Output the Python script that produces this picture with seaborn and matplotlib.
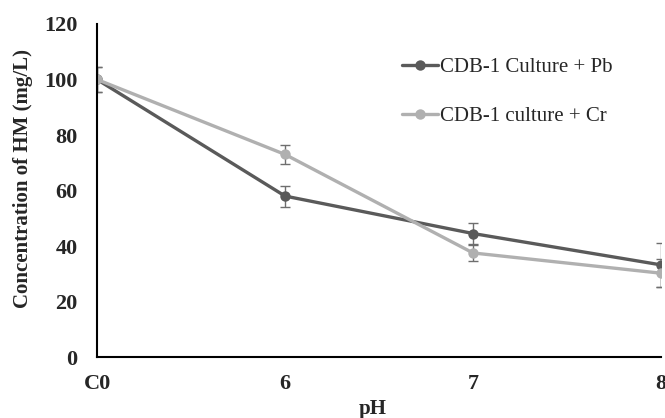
import numpy as np
import pandas as pd
import seaborn as sns
import matplotlib.pyplot as plt

# 数据
ph_labels = ['C0', '6', '7', '8']
pb_values = [100, 58, 44.5, 33.2]
pb_errors = [4.5, 3.8, 3.8, 8.0]
cr_values = [100, 73, 37.5, 30.2]
cr_errors = [4.5, 3.5, 3.0, 5.0]
series_names = ['CDB-1 Culture + Pb', 'CDB-1 culture + Cr']
series_colors = ['#5a5a5a', '#b0b0b0']

sns.set_style('white')
plt.rcParams['font.family'] = ['Liberation Serif', 'DejaVu Serif']

pos = np.arange(len(ph_labels))
df = pd.DataFrame({
    'pos': np.concatenate([pos, pos]),
    'value': pb_values + cr_values,
    'err': pb_errors + cr_errors,
    'series': [series_names[0]] * len(pos) + [series_names[1]] * len(pos),
})

fig = plt.figure(figsize=(6.65, 4.18), dpi=100)
ax = fig.add_axes([0.1459, 0.1459, 0.8481, 0.7967])

# 误差线
for name, color in zip(series_names, series_colors):
    sub = df[df['series'] == name]
    ax.errorbar(sub['pos'], sub['value'], yerr=sub['err'], fmt='none',
                ecolor='#6e6e6e', elinewidth=1.0, capsize=3.5, capthick=1.0, zorder=1)

sns.lineplot(data=df, x='pos', y='value', hue='series', hue_order=series_names,
             palette=series_colors, marker='o', markersize=7.5, markeredgewidth=0,
             linewidth=2.4, ax=ax, zorder=2)

ax.set_xlim(0, 3)
ax.set_ylim(0, 120)
ax.set_xticks(pos)
ax.set_xticklabels(ph_labels)
ax.set_yticks(range(0, 121, 20))
for lab in ax.get_xticklabels() + ax.get_yticklabels():
    lab.set_fontweight('bold')
    lab.set_fontsize(16)

ax.set_xlabel('pH', fontsize=15, fontweight='bold')
ax.set_ylabel('Concentration of HM (mg/L)', fontsize=15, fontweight='bold')
ax.xaxis.set_label_coords(0.489, -0.125)
ax.yaxis.set_label_coords(-0.113, 0.537)

for s in ['top', 'right']:
    ax.spines[s].set_visible(False)
for s in ['left', 'bottom']:
    ax.spines[s].set_color('black')
    ax.spines[s].set_linewidth(1.5)
ax.tick_params(axis='both', direction='out', length=5, width=1.5, color='black')
ax.tick_params(axis='y', pad=9)
ax.tick_params(axis='x', pad=7)
for sp in ax.spines.values():
    sp.set_clip_on(False)

ax.legend(loc='upper left', bbox_to_anchor=(0.507, 0.955), frameon=False,
          fontsize=15, handlelength=1.75, handletextpad=0.1, labelspacing=1.4)

fig.savefig('out.png', dpi=100)
